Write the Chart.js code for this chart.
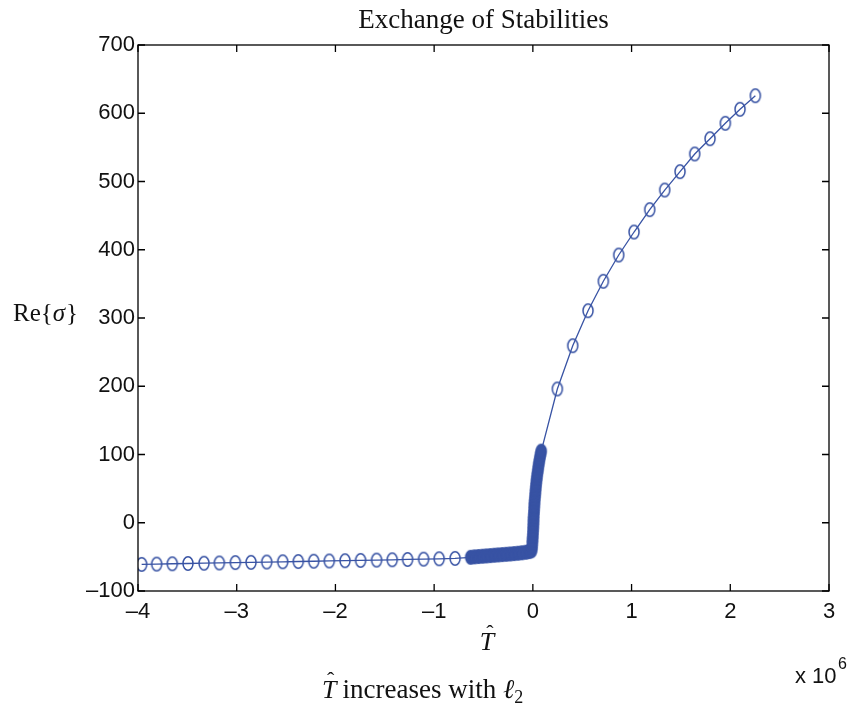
<!DOCTYPE html>
<html>
<head>
<meta charset="utf-8">
<script src="https://cdn.jsdelivr.net/npm/chart.js@4/dist/chart.umd.min.js"></script>
<style>
  html, body { margin: 0; padding: 0; background: #fff; }
  #wrap { width: 853px; height: 715px; }
</style>
</head>
<body>
<div id="wrap"><canvas id="chart" width="853" height="715"></canvas></div>
<script>
// T-hat values are in units of 10^6
const leftT = [-3.963, -3.811, -3.653, -3.494, -3.331, -3.176, -3.014, -2.855, -2.696, -2.534,
               -2.376, -2.220, -2.062, -1.903, -1.745, -1.583, -1.425, -1.269, -1.107, -0.949, -0.788];
const leftS = [-61.0, -60.6, -60.1, -59.7, -59.3, -58.9, -58.4, -58.0, -57.6, -57.2,
               -56.8, -56.4, -56.0, -55.6, -55.2, -54.7, -54.3, -53.8, -53.3, -52.8, -52.2];

// dense cluster near T = 0 (drawn as filled markers)
const denseT = [-0.630, -0.590, -0.550, -0.510, -0.470, -0.430, -0.390, -0.350, -0.310, -0.270,
                -0.230, -0.190, -0.150, -0.110, -0.070, -0.035, -0.012,
                -0.008, -0.005, -0.003, -0.001, 0.001, 0.003, 0.004, 0.006, 0.007, 0.009,
                0.011, 0.013, 0.015, 0.017, 0.020, 0.023, 0.026, 0.029, 0.032, 0.036,
                0.040, 0.044, 0.049, 0.054, 0.059, 0.065, 0.071, 0.078, 0.085];
const denseS = [-50.6, -50.0, -49.5, -49.0, -48.6, -48.1, -47.6, -47.1, -46.7, -46.2,
                -45.7, -45.2, -44.6, -44.0, -43.2, -42.3, -41.0,
                -36, -30, -25, -20, -15, -10, -5, 0, 5, 10,
                15, 20, 25, 30, 35, 40, 45, 50, 55, 60,
                65, 70, 75, 80, 85, 90, 95, 100, 105];

const rightT = [0.248, 0.404, 0.559, 0.714, 0.870, 1.025, 1.184, 1.336, 1.491, 1.640, 1.795, 1.950, 2.099, 2.254];
const rightS = [196.0, 259.4, 310.7, 353.8, 392.3, 426.0, 458.7, 487.5, 514.4, 540.3, 562.7, 585.3, 605.8, 625.7];

const xTicks = [-4, -3, -2, -1, 0, 1, 2, 3];
const yTicks = [-100, 0, 100, 200, 300, 400, 500, 600, 700];

const blue = '#3853a4';

function ellipseMarker(filled) {
  const c = document.createElement('canvas');
  c.width = 14; c.height = 17;
  const g = c.getContext('2d');
  g.beginPath();
  g.ellipse(7, 8.5, 5.0, 6.8, 0, 0, Math.PI * 2);
  if (filled) { g.fillStyle = blue; g.fill(); }
  g.strokeStyle = blue;
  g.lineWidth = 1.5;
  g.stroke();
  return c;
}
const openMark = ellipseMarker(false);
const fillMark = ellipseMarker(true);

const pts = [];
const isDense = [];
leftT.forEach((t, i) => { pts.push({x: t, y: leftS[i]}); isDense.push(false); });
denseT.forEach((t, i) => { pts.push({x: t, y: denseS[i]}); isDense.push(true); });
rightT.forEach((t, i) => { pts.push({x: t, y: rightS[i]}); isDense.push(false); });

const fmt = v => (v < 0 ? '\u2013' + Math.abs(v) : String(v));

// frame with inward ticks + the text labels (matlab style)
const decor = {
  id: 'decor',
  afterDraw(chart) {
    const ctx = chart.ctx;
    const a = chart.chartArea;
    const xs = chart.scales.x, ys = chart.scales.y;
    ctx.save();
    ctx.strokeStyle = '#000';
    ctx.lineWidth = 1.3;
    ctx.strokeRect(a.left, a.top, a.right - a.left, a.bottom - a.top);
    ctx.beginPath();
    const tl = 7;
    xTicks.forEach(v => {
      const px = xs.getPixelForValue(v);
      ctx.moveTo(px, a.bottom); ctx.lineTo(px, a.bottom - tl);
      ctx.moveTo(px, a.top); ctx.lineTo(px, a.top + tl);
    });
    yTicks.forEach(v => {
      const py = ys.getPixelForValue(v);
      ctx.moveTo(a.left, py); ctx.lineTo(a.left + tl, py);
      ctx.moveTo(a.right, py); ctx.lineTo(a.right - tl, py);
    });
    ctx.stroke();

    ctx.fillStyle = '#111';
    const serif = '"Liberation Serif", "DejaVu Serif", serif';
    const sans = '"Liberation Sans", Arial, sans-serif';

    // title
    ctx.font = '27px ' + serif;
    ctx.textAlign = 'center';
    ctx.textBaseline = 'alphabetic';
    ctx.fillText('Exchange of Stabilities', (a.left + a.right) / 2, 28);

    // y label Re{sigma}
    ctx.textAlign = 'left';
    ctx.font = '25px ' + serif;
    let x = 13;
    ctx.fillText('Re{', x, 321); x += ctx.measureText('Re{').width;
    ctx.font = 'italic 25px ' + serif;
    ctx.fillText('\u03c3', x, 321); x += ctx.measureText('\u03c3').width + 1;
    ctx.font = '25px ' + serif;
    ctx.fillText('}', x, 321);

    // x label T-hat
    ctx.font = 'italic 26px ' + serif;
    ctx.textAlign = 'center';
    ctx.fillText('T', 487, 650);
    ctx.font = '22px ' + serif;
    ctx.fillText('\u02c6', 490, 640);

    // exponent
    ctx.textAlign = 'left';
    ctx.font = '22px ' + sans;
    ctx.fillText('x 10', 795, 683);
    ctx.font = '16px ' + sans;
    ctx.fillText('6', 838, 669);

    // bottom note
    x = 322;
    const by = 698;
    ctx.font = 'italic 26px ' + serif;
    ctx.fillText('T', x, by);
    ctx.font = '22px ' + serif;
    ctx.fillText('\u02c6', x + 5, by - 11);
    ctx.font = 'italic 26px ' + serif;
    x += ctx.measureText('T').width + 6;
    ctx.font = '27px ' + serif;
    ctx.fillText('increases with ', x, by); x += ctx.measureText('increases with ').width;
    ctx.font = 'italic 27px ' + serif;
    ctx.fillText('\u2113', x, by); x += ctx.measureText('\u2113').width;
    ctx.font = '18px ' + serif;
    ctx.fillText('2', x, by + 5);
    ctx.restore();
  }
};

new Chart(document.getElementById('chart'), {
  type: 'line',
  data: {
    datasets: [{
      data: pts,
      borderColor: blue,
      borderWidth: 1.3,
      pointStyle: c => (isDense[c.dataIndex] ? fillMark : openMark),
      pointRadius: 7,
      pointHoverRadius: 7,
      tension: 0,
      fill: false
    }]
  },
  options: {
    responsive: false,
    animation: false,
    devicePixelRatio: 1,
    events: [],
    layout: { padding: { top: 45, right: 24, left: 0, bottom: 0 } },
    plugins: { legend: { display: false }, tooltip: { enabled: false } },
    scales: {
      x: {
        type: 'linear',
        min: -4, max: 3,
        grid: { display: false, drawTicks: false },
        border: { display: false },
        afterBuildTicks: s => { s.ticks = xTicks.map(v => ({ value: v })); },
        afterFit: s => { s.height = 124; },
        ticks: {
          callback: fmt,
          padding: 8,
          color: '#111',
          font: { family: '"Liberation Sans", Arial, sans-serif', size: 22 },
          maxRotation: 0
        }
      },
      y: {
        type: 'linear',
        min: -100, max: 700,
        grid: { display: false, drawTicks: false },
        border: { display: false },
        afterBuildTicks: s => { s.ticks = yTicks.map(v => ({ value: v })); },
        afterFit: s => { s.width = 138; },
        ticks: {
          callback: fmt,
          padding: 3,
          color: '#111',
          font: { family: '"Liberation Sans", Arial, sans-serif', size: 22 }
        }
      }
    }
  },
  plugins: [decor]
});
</script>
</body>
</html>
